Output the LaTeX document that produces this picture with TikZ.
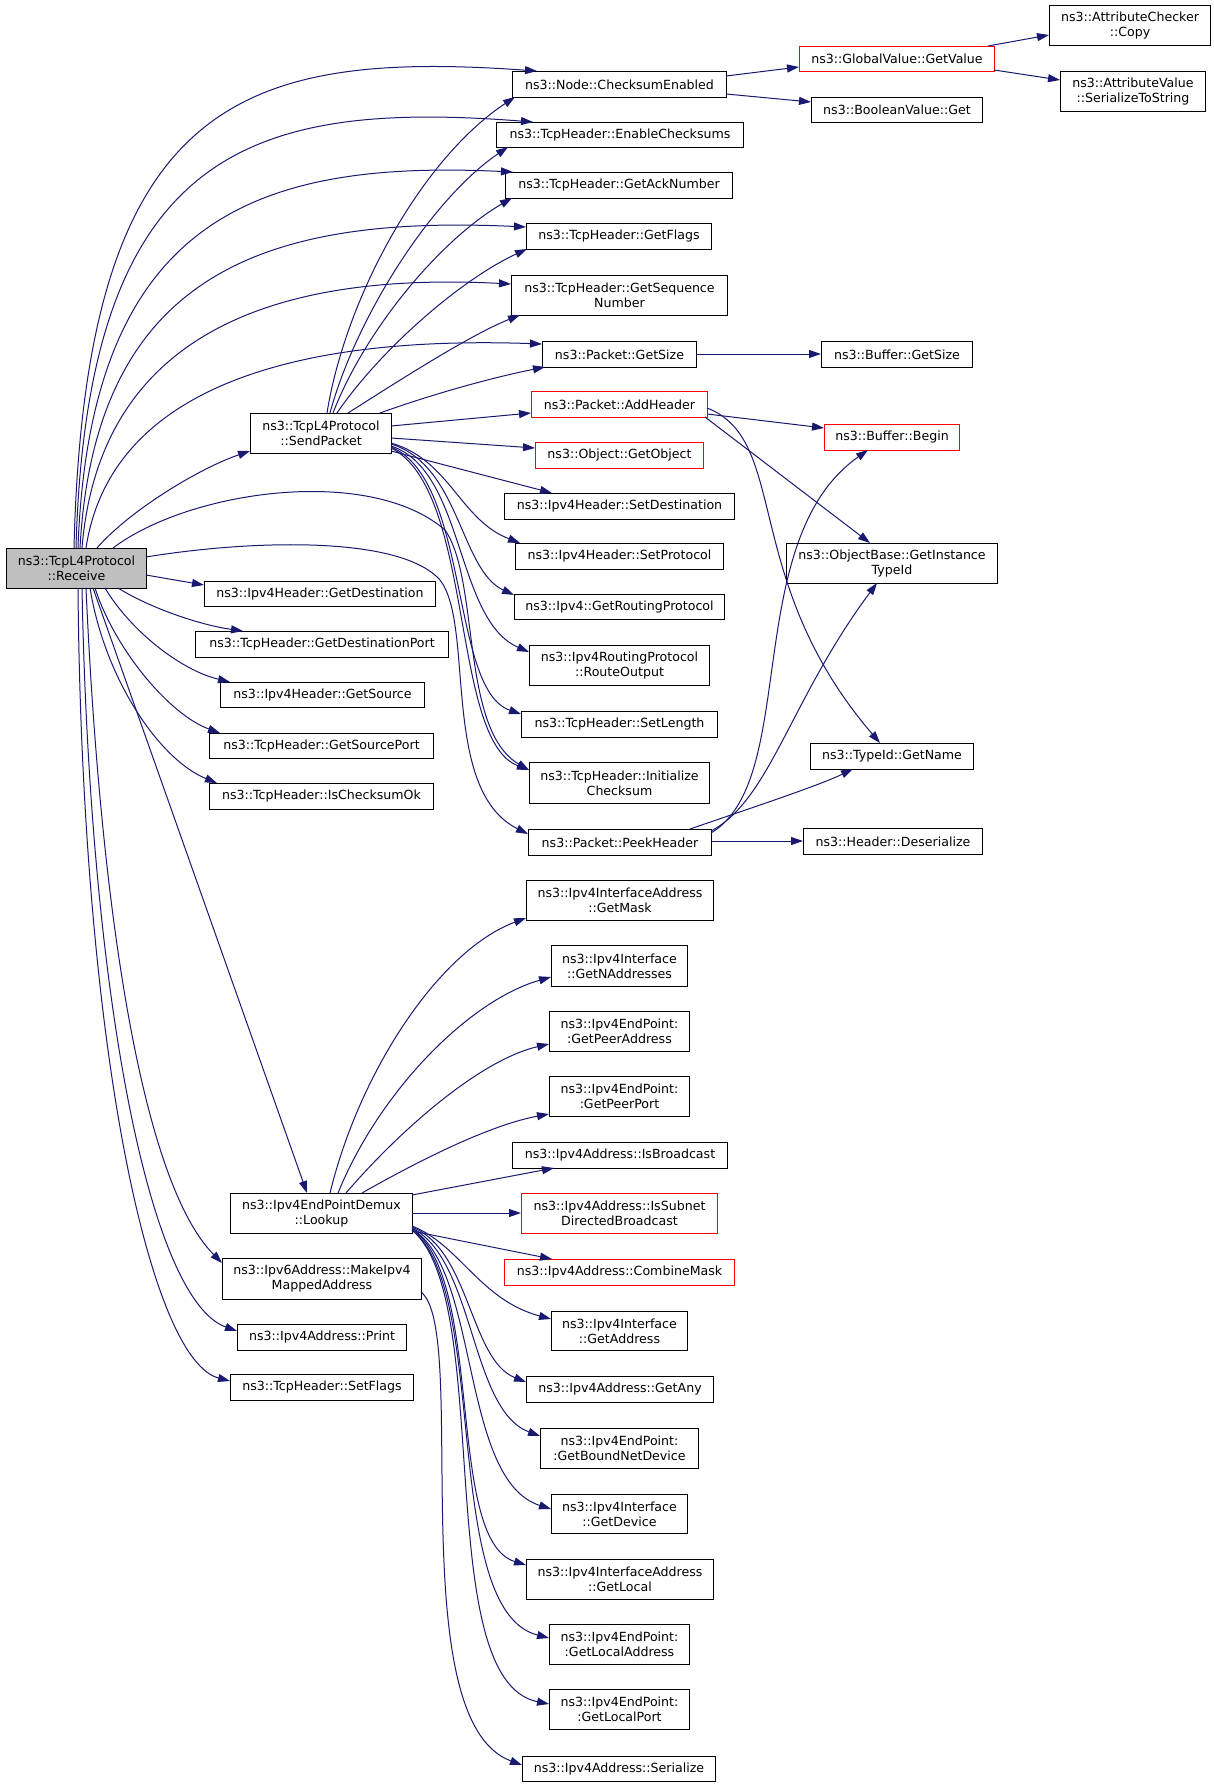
\documentclass[tikz,border=0pt]{standalone}
\usepackage{fontspec}
\setmainfont{DejaVu Sans}
\usetikzlibrary{arrows.meta,calc}
\definecolor{edgec}{HTML}{191970}
\definecolor{recvfill}{HTML}{BFBFBF}
\begin{document}
\begin{tikzpicture}[x=1pt,y=-1pt,
  box/.style={draw=black,line width=1pt,anchor=north west,inner sep=0pt,align=center,
    font=\fontsize{12.6}{15}\selectfont,fill=white},
  rbox/.style={box,draw=red},
  edge/.style={draw=edgec,line width=1pt,-{Triangle[length=12pt,width=8pt]}}]
\useasboundingbox[fill=white] (0,0) rectangle (1213,1787);
% nodes
\node[box,fill=recvfill,minimum width=140pt,minimum height=40pt] (recv) at (6,548) {ns3::TcpL4Protocol\\::Receive};
\node[box,minimum width=214pt,minimum height=26pt] (cse) at (512,71) {ns3::Node::ChecksumEnabled};
\node[rbox,minimum width=195pt,minimum height=25pt] (gv) at (799,46) {ns3::GlobalValue::GetValue};
\node[box,minimum width=161pt,minimum height=40pt] (acc) at (1049,5) {ns3::AttributeChecker\\::Copy};
\node[box,minimum width=145pt,minimum height=40pt] (avs) at (1060,71) {ns3::AttributeValue\\::SerializeToString};
\node[box,minimum width=171pt,minimum height=25pt] (bvg) at (811,97) {ns3::BooleanValue::Get};
\node[box,minimum width=247pt,minimum height=25pt] (ec) at (496,122) {ns3::TcpHeader::EnableChecksums};
\node[box,minimum width=227pt,minimum height=26pt] (gan) at (505,172) {ns3::TcpHeader::GetAckNumber};
\node[box,minimum width=185pt,minimum height=26pt] (gfl) at (526,223) {ns3::TcpHeader::GetFlags};
\node[box,minimum width=216pt,minimum height=40pt] (gsn) at (511,275) {ns3::TcpHeader::GetSequence\\Number};
\node[box,minimum width=154pt,minimum height=26pt] (pgs) at (542,341) {ns3::Packet::GetSize};
\node[box,minimum width=151pt,minimum height=26pt] (bgs) at (821,341) {ns3::Buffer::GetSize};
\node[rbox,minimum width=176pt,minimum height=26pt] (pah) at (531,391) {ns3::Packet::AddHeader};
\node[rbox,minimum width=135pt,minimum height=26pt] (bb) at (824,424) {ns3::Buffer::Begin};
\node[box,minimum width=141pt,minimum height=40pt] (sp) at (250,413) {ns3::TcpL4Protocol\\::SendPacket};
\node[rbox,minimum width=168pt,minimum height=26pt] (ogo) at (535,442) {ns3::Object::GetObject};
\node[box,minimum width=230pt,minimum height=26pt] (isd) at (504,493) {ns3::Ipv4Header::SetDestination};
\node[box,minimum width=208pt,minimum height=26pt] (isp) at (515,543) {ns3::Ipv4Header::SetProtocol};
\node[box,minimum width=211pt,minimum height=40pt] (obg) at (786,543) {ns3::ObjectBase::GetInstance\\TypeId};
\node[box,minimum width=231pt,minimum height=25pt] (igd) at (204,581) {ns3::Ipv4Header::GetDestination};
\node[box,minimum width=210pt,minimum height=25pt] (grp) at (514,594) {ns3::Ipv4::GetRoutingProtocol};
\node[box,minimum width=253pt,minimum height=26pt] (gdp) at (195,631) {ns3::TcpHeader::GetDestinationPort};
\node[box,minimum width=180pt,minimum height=40pt] (ro) at (529,645) {ns3::Ipv4RoutingProtocol\\::RouteOutput};
\node[box,minimum width=204pt,minimum height=25pt] (igs) at (220,682) {ns3::Ipv4Header::GetSource};
\node[box,minimum width=196pt,minimum height=26pt] (sl) at (521,711) {ns3::TcpHeader::SetLength};
\node[box,minimum width=224pt,minimum height=25pt] (gsp) at (209,733) {ns3::TcpHeader::GetSourcePort};
\node[box,minimum width=163pt,minimum height=26pt] (tgn) at (810,743) {ns3::TypeId::GetName};
\node[box,minimum width=224pt,minimum height=26pt] (ico) at (209,783) {ns3::TcpHeader::IsChecksumOk};
\node[box,minimum width=180pt,minimum height=41pt] (ic) at (529,762) {ns3::TcpHeader::Initialize\\Checksum};
\node[box,minimum width=183pt,minimum height=26pt] (ph) at (528,829) {ns3::Packet::PeekHeader};
\node[box,minimum width=179pt,minimum height=26pt] (hd) at (803,828) {ns3::Header::Deserialize};
\node[box,minimum width=187pt,minimum height=40pt] (gm) at (526,880) {ns3::Ipv4InterfaceAddress\\::GetMask};
\node[box,minimum width=136pt,minimum height=41pt] (gna) at (551,945) {ns3::Ipv4Interface\\::GetNAddresses};
\node[box,minimum width=140pt,minimum height=40pt] (gpa) at (549,1011) {ns3::Ipv4EndPoint:\\:GetPeerAddress};
\node[box,minimum width=140pt,minimum height=40pt] (gpp) at (549,1076) {ns3::Ipv4EndPoint:\\:GetPeerPort};
\node[box,minimum width=215pt,minimum height=26pt] (ib) at (512,1142) {ns3::Ipv4Address::IsBroadcast};
\node[box,minimum width=182pt,minimum height=40pt] (lk) at (230,1193) {ns3::Ipv4EndPointDemux\\::Lookup};
\node[rbox,minimum width=196pt,minimum height=40pt] (isdb) at (521,1193) {ns3::Ipv4Address::IsSubnet\\DirectedBroadcast};
\node[rbox,minimum width=230pt,minimum height=26pt] (cm) at (504,1259) {ns3::Ipv4Address::CombineMask};
\node[box,minimum width=199pt,minimum height=41pt] (mim) at (222,1258) {ns3::Ipv6Address::MakeIpv4\\MappedAddress};
\node[box,minimum width=136pt,minimum height=39pt] (iga) at (551,1311) {ns3::Ipv4Interface\\::GetAddress};
\node[box,minimum width=169pt,minimum height=26pt] (iap) at (237,1324) {ns3::Ipv4Address::Print};
\node[box,minimum width=187pt,minimum height=26pt] (gany) at (526,1376) {ns3::Ipv4Address::GetAny};
\node[box,minimum width=183pt,minimum height=26pt] (sf) at (230,1374) {ns3::TcpHeader::SetFlags};
\node[box,minimum width=158pt,minimum height=40pt] (gbnd) at (540,1428) {ns3::Ipv4EndPoint:\\:GetBoundNetDevice};
\node[box,minimum width=136pt,minimum height=39pt] (gdev) at (551,1494) {ns3::Ipv4Interface\\::GetDevice};
\node[box,minimum width=187pt,minimum height=40pt] (gloc) at (526,1559) {ns3::Ipv4InterfaceAddress\\::GetLocal};
\node[box,minimum width=140pt,minimum height=40pt] (gla) at (549,1624) {ns3::Ipv4EndPoint:\\:GetLocalAddress};
\node[box,minimum width=140pt,minimum height=40pt] (glp) at (549,1689) {ns3::Ipv4EndPoint:\\:GetLocalPort};
\node[box,minimum width=193pt,minimum height=25pt] (ser) at (522,1756) {ns3::Ipv4Address::Serialize};
% Receive edges
\draw[edge] ($(recv.north west)+(68,0)$) .. controls (85,100) and (240,50) .. ($(cse.north west)+(25,0)$);
\draw[edge] ($(recv.north west)+(70,0)$) .. controls (87,150) and (250,100) .. ($(ec.north west)+(37,0)$);
\draw[edge] ($(recv.north west)+(72,0)$) .. controls (90,215) and (260,160) .. ($(gan.north west)+(8,0)$);
\draw[edge] ($(recv.north west)+(74,0)$) .. controls (95,270) and (270,215) .. ($(gfl.north west)+(0,4)$);
\draw[edge] ($(recv.north west)+(76,0)$) .. controls (100,330) and (280,272) .. ($(gsn.north west)+(0,9)$);
\draw[edge] ($(recv.north west)+(80,0)$) .. controls (110,390) and (290,335) .. ($(pgs.north west)+(0,3)$);
\draw[edge] ($(recv.north west)+(91,0)$) .. controls (130,510) and (200,468) .. ($(sp.north west)+(0,38)$);
\draw[edge] ($(recv.north west)+(107,0)$) .. controls (190,490) and (370,465) .. (445,530) .. controls (480,580) and (460,730) .. ($(ic.north west)+(0,8)$);
\draw[edge] ($(recv.north west)+(140,9)$) .. controls (250,540) and (400,535) .. (440,580) .. controls (475,625) and (440,790) .. ($(ph.north west)+(0,5)$);
\draw[edge] ($(recv.north west)+(140,27)$) -- ($(igd.north west)+(0,4)$);
\draw[edge] ($(recv.north west)+(112,40)$) .. controls (150,608) and (200,625) .. ($(gdp.north west)+(48,0)$);
\draw[edge] ($(recv.north west)+(99,40)$) .. controls (130,630) and (180,670) .. ($(igs.north west)+(10,0)$);
\draw[edge] ($(recv.north west)+(89,40)$) .. controls (115,650) and (170,715) .. ($(gsp.north west)+(11,0)$);
\draw[edge] ($(recv.north west)+(84,40)$) .. controls (105,680) and (160,760) .. ($(ico.north west)+(8,0)$);
\draw[edge] ($(recv.north west)+(87,40)$) -- ($(lk.north west)+(77,0)$);
\draw[edge] ($(recv.north west)+(80,40)$) .. controls (100,900) and (140,1180) .. ($(mim.north west)+(0,5)$);
\draw[edge] ($(recv.north west)+(76,40)$) .. controls (90,1000) and (150,1300) .. ($(iap.north west)+(0,7)$);
\draw[edge] ($(recv.north west)+(72,40)$) .. controls (82,1050) and (150,1360) .. ($(sf.north west)+(0,7)$);
% SendPacket edges
\draw[edge] ($(sp.north west)+(77,0)$) .. controls (345,300) and (420,160) .. ($(cse.north west)+(3,26)$);
\draw[edge] ($(sp.north west)+(80,0)$) .. controls (355,320) and (430,200) .. ($(ec.north west)+(12,25)$);
\draw[edge] ($(sp.north west)+(83,0)$) .. controls (365,330) and (440,240) .. ($(gan.north west)+(7,26)$);
\draw[edge] ($(sp.north west)+(87,0)$) .. controls (380,350) and (460,280) .. ($(gfl.north west)+(1,26)$);
\draw[edge] ($(sp.north west)+(98,0)$) .. controls (400,380) and (470,335) .. ($(gsn.north west)+(9,40)$);
\draw[edge] ($(sp.north west)+(130,0)$) .. controls (430,395) and (490,378) .. ($(pgs.north west)+(3,26)$);
\draw[edge] ($(sp.north west)+(141,13)$) -- ($(pah.north west)+(0,22)$);
\draw[edge] ($(sp.north west)+(141,25)$) -- ($(ogo.north west)+(0,6)$);
\draw[edge] ($(sp.north west)+(141,38)$) -- ($(isd.north west)+(48,0)$);
\draw[edge] ($(sp.north west)+(141,30)$) .. controls (450,460) and (460,520) .. ($(isp.north west)+(5,0)$);
\draw[edge] ($(sp.north west)+(141,31)$) .. controls (460,465) and (460,570) .. ($(grp.north west)+(0,1)$);
\draw[edge] ($(sp.north west)+(141,33)$) .. controls (465,470) and (455,620) .. ($(ro.north west)+(0,7)$);
\draw[edge] ($(sp.north west)+(141,34)$) .. controls (470,480) and (450,690) .. ($(sl.north west)+(0,3)$);
\draw[edge] ($(sp.north west)+(141,35)$) .. controls (475,490) and (450,740) .. ($(ic.north west)+(0,8)$);
% right part
\draw[edge] ($(cse.north west)+(214,5)$) -- ($(gv.north west)+(0,21)$);
\draw[edge] ($(cse.north west)+(214,23)$) -- ($(bvg.north west)+(0,5)$);
\draw[edge] ($(gv.north west)+(189,0)$) -- ($(acc.north west)+(0,30)$);
\draw[edge] ($(gv.north west)+(195,24)$) -- ($(avs.north west)+(0,9)$);
\draw[edge] ($(pgs.north west)+(154,13)$) -- ($(bgs.north west)+(0,13)$);
\draw[edge] ($(pah.north west)+(176,23)$) -- ($(bb.north west)+(0,4)$);
\draw[edge] ($(pah.north west)+(174,26)$) -- ($(obg.north west)+(84,0)$);
\draw[edge] ($(pah.north west)+(176,17)$) .. controls (790,440) and (740,580) .. ($(tgn.north west)+(70,0)$);
\draw[edge] ($(ph.north west)+(183,12)$) -- ($(hd.north west)+(0,13)$);
\draw[edge] ($(ph.north west)+(162,0)$) .. controls (760,805) and (820,785) .. ($(tgn.north west)+(43,26)$);
\draw[edge] ($(ph.north west)+(183,4)$) .. controls (800,780) and (740,540) .. ($(bb.north west)+(44,26)$);
\draw[edge] ($(ph.north west)+(183,2)$) .. controls (770,800) and (790,700) .. ($(obg.north west)+(91,40)$);
% Lookup edges
\draw[edge] ($(lk.north west)+(100,0)$) .. controls (360,1070) and (440,950) .. ($(gm.north west)+(0,38)$);
\draw[edge] ($(lk.north west)+(108,0)$) .. controls (380,1090) and (470,1000) .. ($(gna.north west)+(0,32)$);
\draw[edge] ($(lk.north west)+(116,0)$) .. controls (400,1130) and (480,1060) .. ($(gpa.north west)+(0,33)$);
\draw[edge] ($(lk.north west)+(132,0)$) .. controls (420,1160) and (490,1125) .. ($(gpp.north west)+(0,38)$);
\draw[edge] ($(lk.north west)+(182,2)$) -- ($(ib.north west)+(42,26)$);
\draw[edge] ($(lk.north west)+(182,20)$) -- ($(isdb.north west)+(0,20)$);
\draw[edge] ($(lk.north west)+(182,38)$) -- ($(cm.north west)+(48,0)$);
\draw[edge] ($(lk.north west)+(182,33)$) .. controls (460,1245) and (480,1300) .. ($(iga.north west)+(0,8)$);
\draw[edge] ($(lk.north west)+(182,34)$) .. controls (470,1250) and (470,1360) .. ($(gany.north west)+(0,6)$);
\draw[edge] ($(lk.north west)+(182,35)$) .. controls (475,1260) and (470,1410) .. ($(gbnd.north west)+(0,8)$);
\draw[edge] ($(lk.north west)+(182,36)$) .. controls (480,1270) and (460,1480) .. ($(gdev.north west)+(0,15)$);
\draw[edge] ($(lk.north west)+(182,36)$) .. controls (485,1280) and (445,1540) .. ($(gloc.north west)+(0,6)$);
\draw[edge] ($(lk.north west)+(182,37)$) .. controls (490,1290) and (440,1610) .. ($(gla.north west)+(0,14)$);
\draw[edge] ($(lk.north west)+(182,37)$) .. controls (495,1300) and (430,1680) .. ($(glp.north west)+(0,15)$);
\draw[edge] ($(mim.north west)+(199,34)$) .. controls (470,1330) and (400,1720) .. ($(ser.north west)+(0,9)$);
\end{tikzpicture}
\end{document}
